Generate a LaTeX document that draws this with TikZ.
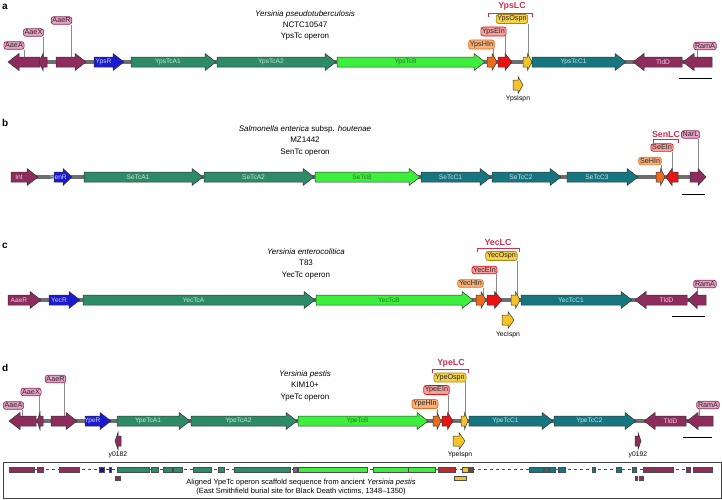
\documentclass[tikz,border=0pt]{standalone}
\usepackage{fontspec}
\setmainfont{Liberation Sans}
\setsansfont{Liberation Sans}
\definecolor{maroon}{HTML}{8E2C5E}
\definecolor{gblue}{HTML}{1A1ACF}
\definecolor{navy}{HTML}{14147A}
\definecolor{tcA}{HTML}{2E8B68}
\definecolor{tcB}{HTML}{3DEE3D}
\definecolor{tcC}{HTML}{167680}
\definecolor{gorange}{HTML}{EE6A1C}
\definecolor{gred}{HTML}{E81414}
\definecolor{dred}{HTML}{C0282C}
\definecolor{gyellow}{HTML}{F2C42A}
\definecolor{olive}{HTML}{5A5230}
\definecolor{bb}{HTML}{6E6E6E}
\definecolor{lcred}{HTML}{D0304E}
\definecolor{pinkf}{HTML}{E6A4C6}
\definecolor{orangef}{HTML}{F7B27A}
\definecolor{redf}{HTML}{F7A0A0}
\definecolor{yellowf}{HTML}{F5D14A}
\definecolor{leadgray}{HTML}{8A8A8A}
\definecolor{ltmaroon}{HTML}{F2CCE0}
\definecolor{ltblue}{HTML}{D0D0FF}
\definecolor{ltgreen}{HTML}{C4EAD6}
\definecolor{dkgreen}{HTML}{1E7A1E}
\definecolor{ltteal}{HTML}{C4E4EA}
\tikzset{
  gene/.style={draw=black!80, line width=0.5pt, line join=miter},
  glab/.style={font=\fontsize{6.6}{7}\selectfont, inner sep=0pt},
  backbone/.style={draw=bb, line width=3.5pt},
  lab/.style={rounded corners=2.5pt, line width=0.7pt, inner sep=1.3pt, font=\fontsize{7.2}{8}\selectfont, text=black!85},
  labM/.style={lab, fill=pinkf, draw=maroon},
  labO/.style={lab, fill=orangef, draw=gorange},
  labR/.style={lab, fill=redf, draw=gred},
  labY/.style={lab, fill=yellowf, draw=gyellow!70!black},
  lead/.style={draw=leadgray, line width=0.7pt},
  lctext/.style={font=\bfseries\fontsize{8.8}{9}\selectfont, text=lcred, inner sep=0pt},
  bracket/.style={draw=lcred, line width=0.7pt},
  ttl/.style={font=\fontsize{8}{9}\selectfont, inner sep=0pt},
  plet/.style={font=\bfseries\fontsize{10}{11}\selectfont, inner sep=0pt, anchor=west},
  small/.style={font=\fontsize{6.8}{7}\selectfont, inner sep=0pt},
  sbar/.style={draw=black, line width=1pt},
  seg/.style={draw=black!70, line width=0.3pt},
}
\newcommand{\gR}[6]{%
  \pgfmathsetmacro{\hl}{min(11,0.5*(#2-#1))}%
  \pgfmathsetmacro{\hb}{#2-\hl}%
  \filldraw[gene, fill=#4] (#1,#3-5) -- (\hb,#3-5) -- (\hb,#3-8.5) -- (#2,#3) -- (\hb,#3+8.5) -- (\hb,#3+5) -- (#1,#3+5) -- cycle;
  \node[glab, text=#6] at ({(#1+\hb)/2},#3) {#5};
}
\newcommand{\gL}[6]{%
  \pgfmathsetmacro{\hl}{min(11,0.5*(#2-#1))}%
  \pgfmathsetmacro{\hb}{#1+\hl}%
  \filldraw[gene, fill=#4] (#2,#3-5) -- (\hb,#3-5) -- (\hb,#3-8.5) -- (#1,#3) -- (\hb,#3+8.5) -- (\hb,#3+5) -- (#2,#3+5) -- cycle;
  \node[glab, text=#6] at ({(#2+\hb)/2},#3) {#5};
}
\newcommand{\sq}[3]{\filldraw[seg, fill=#3] (#1,467) rectangle (#2,472);}
\newcommand{\sqb}[3]{\filldraw[seg, fill=#3] (#1,476) rectangle (#2,480);}
\begin{document}
\begin{tikzpicture}[x=1pt,y=-1pt]
\useasboundingbox (0,0) rectangle (722,499);
% ================= panel a =================
\node[plet] (pa) at (2,7) {a};
\node[ttl] (ta1) at (305,14) {\textit{Yersinia pseudotuberculosis}};
\node[ttl] (ta2) at (305,24.5) {NCTC10547};
\node[ttl] (ta3) at (305,37) {YpsTc operon};
\draw[backbone] (10,62) -- (710,62);
\node[labM] (aAaeA) at (14,45.5) {AaeA};
\node[labM] (aAaeX) at (33.5,32.5) {AaeX};
\node[labM] (aAaeR) at (61.5,20.5) {AaeR};
\node[labO] (aHIn) at (481.5,44.5) {YpsHIn};
\node[labR] (aEIn) at (493.5,31.5) {YpsEIn};
\node[labY] (aOspn) at (512,19) {YpsOspn};
\node[labM] (aRamA) at (705,46) {RamA};
\draw[lead] (aAaeA.south -| 24,0) -- (24,60);
\draw[lead] (aAaeX.south -| 43,0) -- (43,60);
\draw[lead] (aAaeR.south -| 71,0) -- (71,60);
\draw[lead] (aHIn.south -| 493,0) -- (493,60);
\draw[lead] (aEIn.south -| 505,0) -- (505,60);
\draw[lead] (aOspn.south -| 528,0) -- (528,60);
\draw[lead] (aRamA.south -| 697,0) -- (697,60);
\node[lctext] (aLC) at (512,6) {YpsLC};
\draw[bracket] (488,16.5) -- (488,13) -- (532,13) -- (532,16.5);
\gL{8}{40}{62}{maroon}{}{ltmaroon}
\gL{39}{47}{62}{maroon}{}{ltmaroon}
\gR{56}{86}{62}{maroon}{}{ltmaroon}
\gR{94}{124}{62}{gblue}{YpsR}{ltblue}
\gR{131}{216}{62}{tcA}{YpsTcA1}{ltgreen}
\gR{217}{336}{62}{tcA}{YpsTcA2}{ltgreen}
\gR{337}{485}{62}{tcB}{YpsTcB}{dkgreen}
\gR{487}{497}{62}{gorange}{}{black}
\gR{498}{512}{62}{gred}{}{black}
\gR{523}{532}{62}{gyellow}{}{black}
\gR{532}{626}{62}{tcC}{YpsTcC1}{ltteal}
\gL{633}{682}{62}{maroon}{TldD}{ltmaroon}
\gL{683}{712}{62}{maroon}{}{ltmaroon}
\gR{513}{523}{85}{gyellow}{}{black}
\node[small] (aIspn) at (518,99) {YpsIspn};
\draw[sbar] (679,78) -- (712,78);
% ================= panel b =================
\node[plet] (pb) at (2,123) {b};
\node[ttl] (tb1) at (305,129) {\textit{Salmonella enterica} subsp. \textit{houtenae}};
\node[ttl] (tb2) at (305,140) {MZ1442};
\node[ttl] (tb3) at (305,153) {SenTc operon};
\draw[backbone] (12,177) -- (704,177);
\node[labM] (bNarL) at (690.5,134.5) {NarL};
\node[labR] (bEIn) at (662,147.5) {SeEIn};
\node[labO] (bHIn) at (650,161) {SeHIn};
\draw[lead] (bNarL.south -| 698,0) -- (698,175);
\draw[lead] (bEIn.south -| 672,0) -- (672,175);
\draw[lead] (bHIn.south -| 661,0) -- (661,175);
\node[lctext] (bLC) at (666,134) {SenLC};
\draw[bracket] (653,142.5) -- (653,139) -- (678,139) -- (678,142.5);
\gR{11}{38}{177}{maroon}{Int}{ltmaroon}
\gR{54}{72}{177}{gblue}{SenR}{ltblue}
\gR{84}{203}{177}{tcA}{SeTcA1}{ltgreen}
\gR{204}{314}{177}{tcA}{SeTcA2}{ltgreen}
\gR{315}{420}{177}{tcB}{SeTcB}{dkgreen}
\gR{421}{491}{177}{tcC}{SeTcC1}{ltteal}
\gR{492}{561}{177}{tcC}{SeTcC2}{ltteal}
\gR{567}{638}{177}{tcC}{SeTcC3}{ltteal}
\gR{656}{665}{177}{gorange}{}{black}
\gL{666}{678}{177}{gred}{}{black}
\gR{690}{706}{177}{maroon}{}{ltmaroon}
\draw[sbar] (682,194) -- (705,194);
% ================= panel c =================
\node[plet] (pc) at (2,246) {c};
\node[ttl] (tc1) at (306,252) {\textit{Yersinia enterocolitica}};
\node[ttl] (tc2) at (306,262.5) {T83};
\node[ttl] (tc3) at (306,276) {YecTc operon};
\draw[backbone] (10,300) -- (704,300);
\node[labO] (cHIn) at (470.5,283.5) {YecHIn};
\node[labR] (cEIn) at (484.5,270) {YecEIn};
\node[labY] (cOspn) at (501.5,256) {YecOspn};
\node[labM] (cRamA) at (705,284) {RamA};
\draw[lead] (cHIn.south -| 483,0) -- (483,298);
\draw[lead] (cEIn.south -| 496,0) -- (496,298);
\draw[lead] (cOspn.south -| 517,0) -- (517,298);
\draw[lead] (cRamA.south -| 697,0) -- (697,298);
\node[lctext] (cLC) at (498,242) {YecLC};
\draw[bracket] (477,251.5) -- (477,248) -- (519,248) -- (519,251.5);
\gR{8}{41}{300}{maroon}{AaeR}{ltmaroon}
\gR{49}{80}{300}{gblue}{YecR}{ltblue}
\gR{83}{315}{300}{tcA}{YecTcA}{ltgreen}
\gR{316}{473}{300}{tcB}{YecTcB}{dkgreen}
\gR{476}{486}{300}{gorange}{}{black}
\gR{487}{502}{300}{gred}{}{black}
\gR{511}{520}{300}{gyellow}{}{black}
\gR{521}{632}{300}{tcC}{YecTcC1}{ltteal}
\gL{635}{687}{300}{maroon}{TldD}{ltmaroon}
\gL{688}{706}{300}{maroon}{}{ltmaroon}
\gR{502}{514}{320}{gyellow}{}{black}
\node[small] (cIspn) at (508,335) {YecIspn};
\draw[sbar] (672,316) -- (705,316);
% ================= panel d =================
\node[plet] (pd) at (2,368) {d};
\node[ttl] (td1) at (305,374) {\textit{Yersinia pestis}};
\node[ttl] (td2) at (305,385) {KIM10+};
\node[ttl] (td3) at (305,398) {YpeTc operon};
\draw[backbone] (11,421) -- (711,421);
\node[labM] (dAaeA) at (13.5,405.5) {AaeA};
\node[labM] (dAaeX) at (31,392) {AaeX};
\node[labM] (dAaeR) at (55.5,379) {AaeR};
\node[labO] (dHIn) at (425,404) {YpeHIn};
\node[labR] (dEIn) at (436.5,390) {YpeEIn};
\node[labY] (dOspn) at (450,377.5) {YpeOspn};
\node[labM] (dRamA) at (708,405) {RamA};
\draw[lead] (dAaeA.south -| 22,0) -- (22,419);
\draw[lead] (dAaeX.south -| 39,0) -- (39,419);
\draw[lead] (dAaeR.south -| 64,0) -- (64,419);
\draw[lead] (dHIn.south -| 437,0) -- (437,419);
\draw[lead] (dEIn.south -| 448,0) -- (448,419);
\draw[lead] (dOspn.south -| 465,0) -- (465,419);
\draw[lead] (dRamA.south -| 699,0) -- (699,419);
\node[lctext] (dLC) at (451,363) {YpeLC};
\draw[bracket] (432,372.5) -- (432,369) -- (468,369) -- (468,372.5);
\gL{9}{36}{421}{maroon}{}{ltmaroon}
\gL{37}{43}{421}{maroon}{}{ltmaroon}
\gR{51}{77}{421}{maroon}{}{ltmaroon}
\gR{85}{111}{421}{gblue}{YpeR}{ltblue}
\gR{117}{190}{421}{tcA}{YpeTcA1}{ltgreen}
\gR{191}{297}{421}{tcA}{YpeTcA2}{ltgreen}
\gR{298}{428}{421}{tcB}{YpeTcB}{dkgreen}
\gR{433}{441}{421}{gorange}{}{black}
\gR{442}{453}{421}{gred}{}{black}
\gR{461}{468}{421}{gyellow}{}{black}
\gR{469}{553}{421}{tcC}{YpeTcC1}{ltteal}
\gR{554}{636}{421}{tcC}{YpeTcC2}{ltteal}
\gL{644}{686}{421}{maroon}{TldD}{ltmaroon}
\gL{687}{713}{421}{maroon}{}{ltmaroon}
\gL{115}{121}{441}{maroon}{}{black}
\gR{453}{465}{441}{gyellow}{}{black}
\gR{635}{641}{441}{maroon}{}{black}
\node[small] (dy1) at (118,455) {y0182};
\node[small] (dIspn) at (460,455) {YpeIspn};
\node[small] (dy2) at (638,455) {y0192};
\draw[sbar] (683,437) -- (712,437);
% ================= ancient scaffold box =================
\draw[line width=0.6pt, draw=black!75] (3,462) rectangle (721,498);
\draw[draw=black!70, line width=0.6pt, dash pattern=on 3pt off 3pt] (34,469.5) -- (693,469.5);
\sq{9}{34}{maroon}\sq{37}{43}{maroon}\sq{59}{79}{maroon}
\sq{99}{104}{navy}\sq{109}{111}{navy}
\sq{117}{149}{tcA}\sq{151}{158}{tcA}\sq{163}{172}{tcA}\sq{173}{182}{tcA}
\sq{193}{211}{tcA}\sq{218}{224}{tcA}\sq{234}{290}{tcA}
\sq{293}{297}{bb}
\sq{298}{367}{tcB}\sq{373}{408}{tcB}\sq{408}{435}{tcB}
\sq{438}{455}{dred}
\sq{462}{468}{gyellow}\sq{469}{473}{olive}
\sq{529}{543}{tcC}\sq{544}{548}{tcC}\sq{549}{555}{tcC}\sq{558}{565}{tcC}
\sq{592}{595}{tcC}\sq{616}{621}{tcC}\sq{632}{636}{tcC}
\sq{643}{653}{maroon}\sq{654}{673}{maroon}\sq{686}{690}{maroon}\sq{693}{712}{maroon}
\sqb{115}{120}{maroon}\sqb{454}{466}{gyellow}\sqb{635}{637}{maroon}\sqb{639}{643}{maroon}
\node[font=\fontsize{7.5}{8}\selectfont, inner sep=0pt] (anc1) at (301,482.5) {Aligned YpeTc operon scaffold sequence from ancient \textit{Yersinia pestis}};
\node[font=\fontsize{7.5}{8}\selectfont, inner sep=0pt] (anc2) at (301,492) {(East Smithfield burial site for Black Death victims, 1348–1350)};
\end{tikzpicture}
\end{document}
